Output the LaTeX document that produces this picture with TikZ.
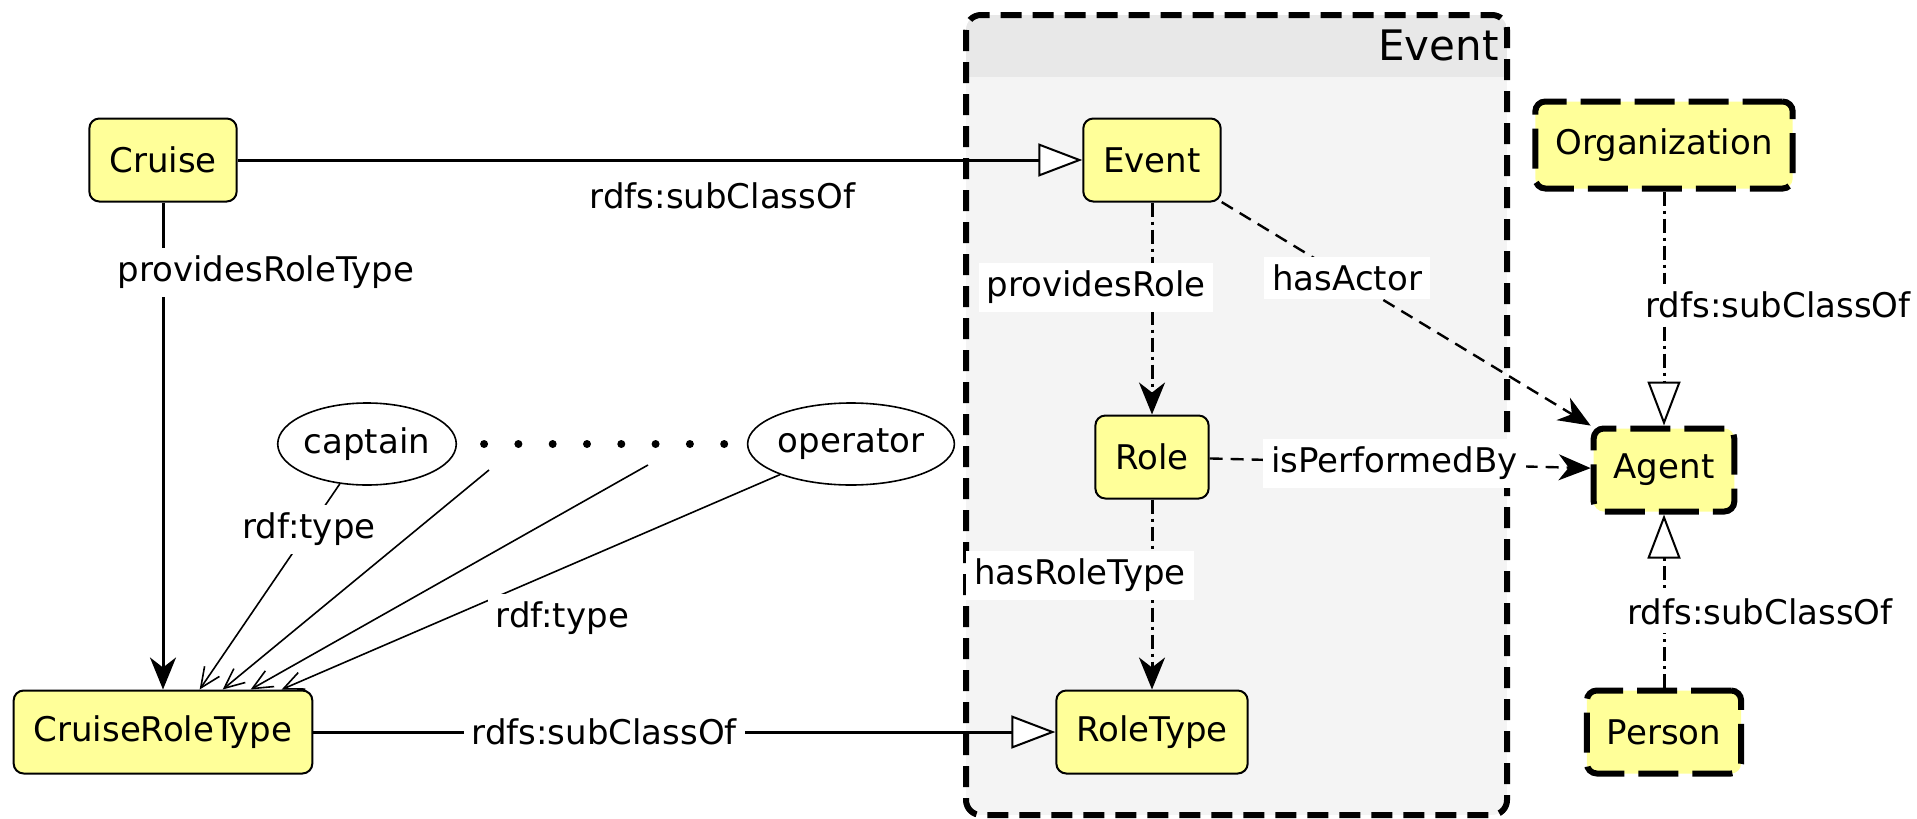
\documentclass[tikz,border=0pt]{standalone}
\usepackage{fontspec}
\setmainfont{DejaVu Sans}
\usetikzlibrary{arrows.meta}
\usetikzlibrary{shapes}

\definecolor{classyellow}{HTML}{FFFF99}
\definecolor{groupgray}{HTML}{F4F4F4}
\definecolor{headgray}{HTML}{E8E8E8}
\newcommand{\diafont}{\fontsize{17}{20}\selectfont}

\begin{document}
\begin{tikzpicture}[x=0.5pt,y=-0.5pt]
	 \tikzstyle{class}=[draw,rounded corners=5pt,fill=classyellow,line width=1pt,inner xsep=10pt,minimum height=41.5pt,font=\diafont]
	 \tikzstyle{external class} = [class, line width=3pt, dash pattern=on 20pt off 7pt]
	 \tikzstyle{individual} = [draw,ellipse,line width=0.8pt,inner sep=0pt,minimum height=41pt,font=\diafont]
	 \tikzstyle{link label} = [fill=white,inner sep=4pt,font=\diafont]
	 \tikzstyle{subclass edge} = [draw,line width=1.5pt,-{Triangle[length=22pt,width=16.5pt,fill=white,line width=1pt]}]
	 \tikzstyle{property edge} = [draw,line width=1.5pt,-{Stealth[length=16pt,width=13pt,inset=5pt]}]
	 \tikzstyle{type edge} = [draw,line width=0.8pt,-{Straight Barb[length=10pt,width=9pt]}]
	 \tikzstyle{dot row} = [draw,line width=4pt,line cap=round,dash pattern=on 0pt off 17.15pt]
	 \tikzstyle{dash dot} = [dash pattern=on 7pt off 2.5pt on 1.5pt off 2.5pt]

	 \useasboundingbox (0,0) rectangle (1917,819);

	 % Event module
	 \begin{scope}
	 	\clip[rounded corners=7.5pt] (966,15) rectangle (1507,815);
	 	\fill[groupgray] (966,15) rectangle (1507,815);
	 	\fill[headgray] (966,15) rectangle (1507,77);
	 \end{scope}
	 \draw[line width=3pt,rounded corners=7.5pt,dash pattern=on 10.5pt off 5.5pt] (966,15) rectangle (1507,815);
	 \node[anchor=base east,inner sep=0pt,font=\fontsize{21}{24}\selectfont] (eventtitle) at (1499,60) {Event};

	 \node[class] (cruise) at (163,160) 				{Cruise};
	 \node[class] (event) at (1152,160) 				{Event};
	 \node[class] (role) at (1152,457) 				{Role};
	 \node[class] (roletype) at (1152,732) 			{RoleType};
	 \node[class] (cruiseroletype) at (163,732) 		{CruiseRoleType};
	 \node[external class,minimum height=43.5pt] (organization) at (1664,145) {Organization};
	 \node[external class] (agent) at (1664,470) 		{Agent};
	 \node[external class] (person) at (1664,732) 		{Person};
	 \node[individual,minimum width=83pt] (captain) at (367,444) 	{captain};
	 \node[individual,minimum width=93pt] (operator) at (851,444) {operator};
	 \coordinate (dot a) at (489,470);
	 \coordinate (dot b) at (648,465);

	 \draw[subclass edge] (cruise) -- node[pos=0.574,yshift=-18pt,font=\diafont] (l1) {rdfs:subClassOf} (event);
	 \draw[property edge] (cruise) -- node[link label,pos=0.143,xshift=51.5pt] (l2) {providesRoleType} (cruiseroletype);
	 \draw[subclass edge] (cruiseroletype) -- node[link label,pos=0.392] (l3) {rdfs:subClassOf} (roletype);
	 \draw[property edge,dash dot] (event) -- node[link label,pos=0.40,xshift=-28pt] (l4) {providesRole} (role);
	 \draw[property edge,dash dot] (role) -- node[link label,pos=0.40,xshift=-36pt] (l5) {hasRoleType} (roletype);
	 \draw[property edge,line width=1.2pt,dash pattern=on 6.5pt off 4pt] (event) -- node[link label,pos=0.34] (l6) {hasActor} (agent);
	 \draw[property edge,line width=1.2pt,dash pattern=on 6.5pt off 4pt] (role) -- node[link label,pos=0.485] (l7) {isPerformedBy} (agent);
	 \draw[subclass edge,dash dot] (organization) -- node[link label,pos=0.485,xshift=57pt] (l8) {rdfs:subClassOf} (agent);
	 \draw[subclass edge,dash dot] (person) -- node[link label,pos=0.44,xshift=48pt] (l9) {rdfs:subClassOf} (agent);

	 % individuals typed by CruiseRoleType
	 \draw[dot row,shorten <=13.5pt,shorten >=3pt] (captain) -- (operator);
	 \draw[type edge] (captain) -- node[link label,pos=0.22] (l10) {rdf:type} ([xshift=93.5pt]cruiseroletype.north west);
	 \draw[type edge] (dot a) -- ([xshift=105pt]cruiseroletype.north west);
	 \draw[type edge] (dot b) -- ([xshift=119pt]cruiseroletype.north west);
	 \draw[type edge] (operator) -- node[link label,pos=0.58,anchor=north west,xshift=-2pt,yshift=3pt] (l11) {rdf:type} ([xshift=134.5pt]cruiseroletype.north west);
\end{tikzpicture}
\end{document}
